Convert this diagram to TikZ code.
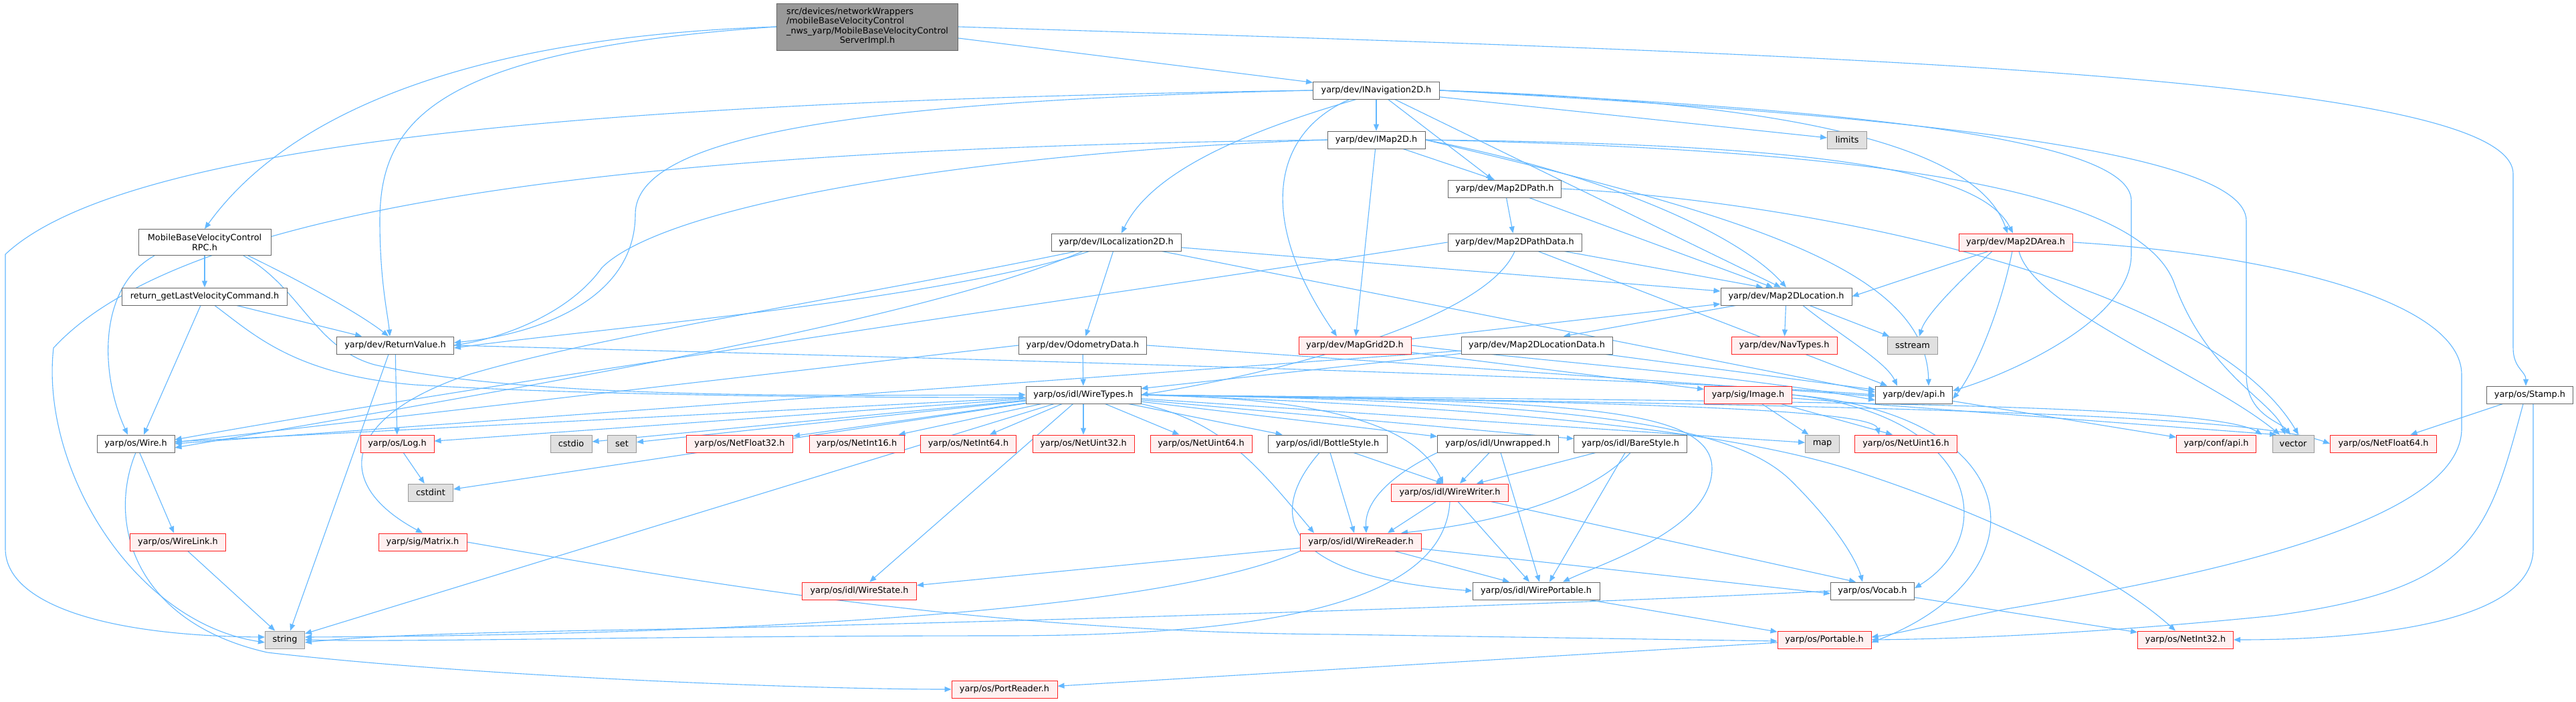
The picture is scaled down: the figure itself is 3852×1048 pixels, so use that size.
\documentclass[tikz,border=0pt]{standalone}
\usepackage{fontspec}
\setmainfont{DejaVu Sans}
\usetikzlibrary{arrows.meta}
\pgfdeclarelayer{bg}
\pgfdeclarelayer{paper}
\pgfsetlayers{paper,bg,main}
\definecolor{edgec}{HTML}{63B8FF}
\definecolor{bordc}{HTML}{666666}
\definecolor{grayb}{HTML}{999999}
\definecolor{grayf}{HTML}{E0E0E0}
\definecolor{redf}{HTML}{FFF0F0}
\definecolor{redb}{HTML}{FF2222}
\definecolor{mainf}{HTML}{999999}
\begin{document}
\begin{tikzpicture}[x=1bp,y=-1bp,
  nb/.style={draw=bordc,fill=white,line width=1bp,minimum height=26bp,inner xsep=3bp,inner ysep=2bp,font=\fontsize{12.9}{14.5}\selectfont},
  nr/.style={nb,draw=redb,fill=redf},
  ng/.style={nb,draw=grayb,fill=grayf},
  e/.style={draw=edgec,line width=1.1bp,-{Triangle[length=10bp,width=8bp]}}]
\useasboundingbox (0,0) rectangle (3852,1048);
\begin{pgfonlayer}{paper}
\fill[white] (0,0) rectangle (3852,1048);
\end{pgfonlayer}
% nodes
\node[nb,fill=mainf,minimum width=271bp,minimum height=70bp] (main) at (1297,40) {\begin{tabular}{@{}l@{}}src/devices/networkWrappers\\ /mobileBaseVelocityControl\\ \_nws\_yarp/MobileBaseVelocityControl\\ \multicolumn{1}{@{}c@{}}{ServerImpl.h}\end{tabular}};
\node[nb,minimum width=198bp,minimum height=39bp,align=center] (rpc) at (306,362) {MobileBaseVelocityControl\\RPC.h};
\node[nb,minimum width=247bp] (retget) at (306,443) {return\_getLastVelocityCommand.h};
\node[nb,minimum width=175bp] (retval) at (591,516) {yarp/dev/ReturnValue.h};
\node[nb,minimum width=194bp] (iloc) at (1669,362) {yarp/dev/ILocalization2D.h};
\node[nb,minimum width=191bp] (odom) at (1619,516) {yarp/dev/OdometryData.h};
\node[nb,minimum width=189bp] (inav) at (2058,135) {yarp/dev/INavigation2D.h};
\node[nb,minimum width=146bp] (imap) at (2058,209) {yarp/dev/IMap2D.h};
\node[ng,minimum width=59bp] (limits) at (2762,209) {limits};
\node[nb,minimum width=169bp] (m2dpath) at (2250,282) {yarp/dev/Map2DPath.h};
\node[nb,minimum width=200bp] (pathdata) at (2265,362) {yarp/dev/Map2DPathData.h};
\node[nb,minimum width=196bp] (m2dloc) at (2671,443) {yarp/dev/Map2DLocation.h};
\node[nr,minimum width=168bp] (mapgrid) at (2026,516) {yarp/dev/MapGrid2D.h};
\node[nb,minimum width=226bp] (locdata) at (2298,516) {yarp/dev/Map2DLocationData.h};
\node[nr,minimum width=158bp] (navtypes) at (2668,516) {yarp/dev/NavTypes.h};
\node[ng,minimum width=75bp] (sstream) at (2860,516) {sstream};
\node[nr,minimum width=170bp] (m2darea) at (3014,362) {yarp/dev/Map2DArea.h};
\node[nb,minimum width=116bp] (wire) at (203,663) {yarp/os/Wire.h};
\node[nr,minimum width=110bp] (log) at (594,663) {yarp/os/Log.h};
\node[ng,minimum width=62bp] (cstdio) at (854,663) {cstdio};
\node[ng,minimum width=43bp] (set) at (930,663) {set};
\node[ng,minimum width=67bp] (cstdint) at (644,736) {cstdint};
\node[nr,minimum width=143bp] (wirelink) at (266,810) {yarp/os/WireLink.h};
\node[nr,minimum width=132bp] (matrix) at (632,810) {yarp/sig/Matrix.h};
\node[ng,minimum width=59bp] (string) at (426,956) {string};
\node[nb,minimum width=172bp] (wiretypes) at (1620,590) {yarp/os/idl/WireTypes.h};
\node[nr,minimum width=159bp] (nf32) at (1106,663) {yarp/os/NetFloat32.h};
\node[nr,minimum width=142bp] (ni16) at (1281,663) {yarp/os/NetInt16.h};
\node[nr,minimum width=143bp] (ni64) at (1448,663) {yarp/os/NetInt64.h};
\node[nr,minimum width=152bp] (nu32) at (1620,663) {yarp/os/NetUint32.h};
\node[nr,minimum width=152bp] (nu64) at (1796,663) {yarp/os/NetUint64.h};
\node[nr,minimum width=171bp] (wirestate) at (1285,883) {yarp/os/idl/WireState.h};
\node[nr,minimum width=158bp] (portreader) at (1502,1030) {yarp/os/PortReader.h};
\node[nr,minimum width=131bp] (image) at (2614,590) {yarp/sig/Image.h};
\node[nb,minimum width=115bp] (devapi) at (2862,590) {yarp/dev/api.h};
\node[nb,minimum width=178bp] (bottle) at (1985,663) {yarp/os/idl/BottleStyle.h};
\node[nb,minimum width=181bp] (unwrapped) at (2240,663) {yarp/os/idl/Unwrapped.h};
\node[nb,minimum width=169bp] (bare) at (2438,663) {yarp/os/idl/BareStyle.h};
\node[ng,minimum width=51bp] (map) at (2725,663) {map};
\node[nr,minimum width=153bp] (nu16) at (2850,663) {yarp/os/NetUint16.h};
\node[nr,minimum width=175bp] (wirewriter) at (2168,736) {yarp/os/idl/WireWriter.h};
\node[nr,minimum width=181bp] (wirereader) at (2035,810) {yarp/os/idl/WireReader.h};
\node[nb,minimum width=190bp] (wireport) at (2297,883) {yarp/os/idl/WirePortable.h};
\node[nb,minimum width=125bp] (vocab) at (2800,883) {yarp/os/Vocab.h};
\node[nr,minimum width=140bp] (portable) at (2728,956) {yarp/os/Portable.h};
\node[nb,minimum width=129bp] (stamp) at (3783,590) {yarp/os/Stamp.h};
\node[nr,minimum width=119bp] (confapi) at (3314,663) {yarp/conf/api.h};
\node[ng,minimum width=62bp] (vector) at (3429,663) {vector};
\node[nr,minimum width=159bp] (nf64) at (3564,663) {yarp/os/NetFloat64.h};
\node[nr,minimum width=143bp] (ni32) at (3268,956) {yarp/os/NetInt32.h};
\begin{pgfonlayer}{bg}
% main
\draw[e] (main.west) .. controls (700,55) and (430,170) .. (rpc.north);
\draw[e] (main.west) .. controls (650,75) and (568,180) .. (568,330) .. controls (568,420) and (580,470) .. ([xshift=-8bp]retval.north);
\draw[e] (main) -- (inav);
\draw[e] (main.east) .. controls (2700,80) and (3758,110) .. (3758,260) -- (3758,520) .. controls (3758,550) and (3777,555) .. ([xshift=-6bp]stamp.north);
% rpc
\draw[e] (rpc) -- (retget);
\draw[e] ([xshift=-75bp]rpc.south) .. controls (145,430) and (150,560) .. ([xshift=-12bp]wire.north);
\draw[e] ([xshift=65bp]rpc.south) .. controls (450,420) and (540,470) .. ([xshift=-10bp]retval.north);
\draw[e] ([xshift=58bp]rpc.south) .. controls (450,430) and (470,520) .. (560,545) .. controls (800,600) and (1300,590) .. (wiretypes.west);
% retget
\draw[e] ([xshift=-6bp]retget.south) -- ([xshift=12bp]wire.north);
\draw[e] ([xshift=48bp]retget.south) -- ([xshift=-50bp]retval.north);
\draw[e] ([xshift=15bp]retget.south) .. controls (380,500) and (440,560) .. (620,575) .. controls (900,592) and (1300,594) .. ([yshift=-4bp]wiretypes.west);
% retval
\draw[e] (retval) -- (log);
\draw[e] ([xshift=-10bp]retval.south) -- ([xshift=8bp]string.north);
\draw[e] (retval.east) .. controls (1200,530) and (2400,560) .. (devapi.west);
% inav
\draw[e] (inav) -- (imap);
\draw[e] ([xshift=-30bp]inav.south) .. controls (1850,200) and (1720,260) .. ([xshift=8bp]iloc.north);
\draw[e] (inav) -- (m2dpath);
\draw[e] (inav) -- ([xshift=-8bp]m2dloc.north);
\draw[e] (inav.east) .. controls (2600,150) and (2950,200) .. ([xshift=-12bp]m2darea.north);
\draw[e] ([xshift=-40bp]inav.south) .. controls (1900,200) and (1880,330) .. ([xshift=-27bp]mapgrid.north);
\draw[e] (inav.west) .. controls (1300,150) and (950,200) .. (950,320) .. controls (950,450) and (800,500) .. ([yshift=4bp]retval.east);
\draw[e] (inav.west) .. controls (1000,150) and (200,200) .. (8,380) -- (8,820) .. controls (8,900) and (150,950) .. ([yshift=4bp]string.west);
\draw[e] (inav) -- (limits);
\draw[e] (inav.east) .. controls (2700,160) and (3187,200) .. (3187,300) -- (3187,380) .. controls (3187,480) and (3000,560) .. ([yshift=6bp]devapi.east);
\draw[e] (inav.east) .. controls (2800,170) and (3359,220) .. (3359,330) -- (3359,560) .. controls (3359,620) and (3410,630) .. ([xshift=-4bp]vector.north);
% imap
\draw[e] (imap) -- (mapgrid);
\draw[e] (imap) -- ([xshift=-15bp]m2dpath.north);
\draw[e] (imap.east) .. controls (2400,260) and (2600,350) .. (m2dloc.north);
\draw[e] (imap.east) .. controls (2700,215) and (2960,250) .. ([xshift=-4bp]m2darea.north);
\draw[e] (imap.east) .. controls (2900,225) and (3200,300) .. (3250,420) .. controls (3300,560) and (3400,600) .. ([xshift=-12bp]vector.north);
\draw[e] (imap.east) .. controls (2600,320) and (2880,400) .. ([xshift=22bp]devapi.north);
\draw[e] (imap.west) .. controls (1500,225) and (1000,300) .. (900,400) .. controls (850,470) and (750,505) .. (retval.east);
\draw[e] (imap.west) .. controls (1100,220) and (300,280) .. (80,520) .. controls (60,700) and (200,930) .. ([yshift=-4bp]string.west);
% iloc
\draw[e] (iloc) -- (odom);
\draw[e] ([xshift=-40bp]iloc.south) .. controls (1400,450) and (900,490) .. ([yshift=-4bp]retval.east);
\draw[e] ([xshift=-60bp]iloc.south) .. controls (1300,440) and (900,500) .. (700,560) .. controls (520,620) and (490,720) .. (matrix.north);
\draw[e] (iloc) -- (m2dloc);
\draw[e] (iloc) -- ([yshift=4bp]devapi.west);
\draw[e] ([xshift=-50bp]iloc.south) .. controls (1400,470) and (900,560) .. ([yshift=-6bp]wire.east);
% odom
\draw[e] (odom) -- (wiretypes);
\draw[e] (odom.west) -- ([yshift=2bp]wire.east);
\draw[e] (odom.east) -- ([yshift=-2bp]devapi.west);
% m2dpath
\draw[e] (m2dpath) -- (pathdata);
\draw[e] (m2dpath) -- ([xshift=-20bp]m2dloc.north);
\draw[e] (m2dpath.east) .. controls (2700,300) and (3300,420) .. ([xshift=8bp]vector.north);
% pathdata
\draw[e] (pathdata) -- ([xshift=-35bp]m2dloc.north);
\draw[e] (pathdata.west) .. controls (1800,420) and (800,560) .. ([yshift=6bp]wire.east);
\draw[e] (pathdata.south) .. controls (2220,480) and (1900,560) .. (wiretypes.east);
\draw[e] (pathdata) -- ([xshift=-40bp]devapi.north);
% m2dloc
\draw[e] (m2dloc) -- ([xshift=40bp]locdata.north);
\draw[e] (m2dloc) -- (navtypes);
\draw[e] (m2dloc) -- (sstream);
\draw[e] ([xshift=25bp]m2dloc.south) .. controls (2750,500) and (2820,540) .. ([xshift=-25bp]devapi.north);
% m2darea
\draw[e] (m2darea) -- (m2dloc.east);
\draw[e] ([xshift=-35bp]m2darea.south) .. controls (2930,420) and (2880,470) .. ([xshift=10bp]sstream.north);
\draw[e] ([xshift=-5bp]m2darea.south) .. controls (2990,470) and (2950,560) .. ([yshift=-6bp]devapi.east);
\draw[e] ([xshift=5bp]m2darea.south) .. controls (3040,460) and (3300,560) .. ([xshift=-20bp]vector.north);
\draw[e] (m2darea.east) .. controls (3400,380) and (3681,450) .. (3681,560) -- (3681,640) .. controls (3681,780) and (3300,860) .. (3000,910) .. controls (2900,930) and (2850,945) .. ([yshift=4bp]portable.east);
% mapgrid
\draw[e] (mapgrid) -- (image);
\draw[e] (mapgrid) -- (m2dloc);
\draw[e] (mapgrid.east) .. controls (2300,540) and (2600,560) .. ([yshift=-8bp]devapi.west);
% locdata
\draw[e] (locdata) -- (wire.east);
\draw[e] (locdata) -- (wiretypes);
\draw[e] (locdata) -- (devapi);
% image
\draw[e] (image) -- (map);
\draw[e] (image) -- ([xshift=-20bp]nu16.north);
\draw[e] (image.east) .. controls (2960,620) and (2990,800) .. ([yshift=4bp]vocab.east);
\draw[e] (image.east) .. controls (3040,620) and (3060,860) .. ([yshift=-4bp]portable.east);
\draw[e] (image) -- ([xshift=-25bp]vector.north);
% devapi
\draw[e] (devapi) -- (confapi);
% wiretypes
\draw[e] (wiretypes) -- (string);
\draw[e] (wiretypes) -- (cstdint);
\draw[e] (wiretypes) -- (cstdio);
\draw[e] (wiretypes) -- (set);
\draw[e] (wiretypes) -- (log);
\draw[e] (wiretypes) -- (wire);
\draw[e] (wiretypes) -- (nf32);
\draw[e] (wiretypes) -- (ni16);
\draw[e] (wiretypes) -- (ni64);
\draw[e] (wiretypes) -- (nu32);
\draw[e] (wiretypes) -- (nu64);
\draw[e] (wiretypes) -- (bottle);
\draw[e] (wiretypes) -- (unwrapped);
\draw[e] (wiretypes) -- (bare);
\draw[e] (wiretypes) -- (wirestate);
\draw[e] (wiretypes) -- (map);
\draw[e] (wiretypes.east) .. controls (2000,595) and (2120,640) .. ([xshift=-10bp]wirewriter.north);
\draw[e] (wiretypes.south east) .. controls (1830,630) and (1884,700) .. ([xshift=-70bp]wirereader.north);
\draw[e] (wiretypes.east) .. controls (2300,600) and (2560,600) .. (2560,700) .. controls (2560,790) and (2400,840) .. ([xshift=40bp]wireport.north);
\draw[e] (wiretypes.east) .. controls (2400,600) and (2600,640) .. (2680,720) .. controls (2760,800) and (2780,850) .. ([xshift=-15bp]vocab.north);
\draw[e] (wiretypes.east) .. controls (2400,600) and (2800,610) .. ([xshift=-40bp]nu16.north);
\draw[e] (wiretypes.east) .. controls (2300,610) and (2600,650) .. (2762,700) .. controls (2950,760) and (3150,850) .. ([xshift=-15bp]ni32.north);
\draw[e] (wiretypes.east) .. controls (2600,600) and (3300,600) .. ([xshift=-15bp]vector.north west);
\draw[e] (wiretypes.east) .. controls (2700,605) and (3350,615) .. (nf64.west);
% wire etc
\draw[e] (wire) -- (wirelink);
\draw[e] (wire.south) .. controls (160,780) and (200,930) .. (400,975) .. controls (700,1010) and (1200,1030) .. (portreader.west);
\draw[e] (log) -- (cstdint);
\draw[e] (wirelink) -- (string);
\draw[e] (matrix.east) .. controls (1100,880) and (1500,945) .. (2000,948) -- ([yshift=-2bp]portable.west);
% idl
\draw[e] (wirereader) -- (wirestate);
\draw[e] (wirereader) -- ([xshift=-40bp]wireport.north);
\draw[e] (wirereader) -- ([yshift=-4bp]vocab.west);
\draw[e] (wirereader.south west) .. controls (1700,930) and (900,950) .. ([yshift=4bp]string.east);
\draw[e] (wirewriter) -- ([xshift=40bp]wirereader.north);
\draw[e] (wirewriter) -- ([xshift=-10bp]wireport.north);
\draw[e] (wirewriter) -- ([xshift=-25bp]vocab.north);
\draw[e] (wirewriter.south) .. controls (2160,900) and (1900,950) .. (1500,950) .. controls (1000,950) and (600,960) .. (string.east);
\draw[e] (bottle) -- ([xshift=-10bp]wirewriter.north);
\draw[e] (bottle) -- ([xshift=-10bp]wirereader.north);
\draw[e] ([xshift=-12bp]bottle.south) .. controls (1900,760) and (1900,860) .. (wireport.west);
\draw[e] (unwrapped) -- ([xshift=15bp]wirewriter.north);
\draw[e] (unwrapped.south west) .. controls (2100,700) and (2040,740) .. ([xshift=8bp]wirereader.north);
\draw[e] (unwrapped) -- ([xshift=5bp]wireport.north);
\draw[e] (bare) -- ([xshift=40bp]wirewriter.north);
\draw[e] (bare.south) .. controls (2380,740) and (2250,780) .. ([xshift=60bp]wirereader.north);
\draw[e] (bare) -- ([xshift=20bp]wireport.north);
\draw[e] (wireport) -- (portable);
\draw[e] (vocab) -- (ni32);
\draw[e] (vocab.west) .. controls (2300,905) and (1500,930) .. (1000,940) .. controls (700,945) and (550,950) .. ([yshift=-4bp]string.east);
\draw[e] (portable) -- (portreader);
\draw[e] (stamp) -- (nf64);
\draw[e] ([xshift=5bp]stamp.south) -- (3788,820) .. controls (3788,940) and (3500,956) .. (ni32.east);
\draw[e] ([xshift=-10bp]stamp.south) .. controls (3720,800) and (3700,880) .. (3400,920) .. controls (3100,950) and (2900,955) .. (portable.east);
\end{pgfonlayer}
\end{tikzpicture}
\end{document}
